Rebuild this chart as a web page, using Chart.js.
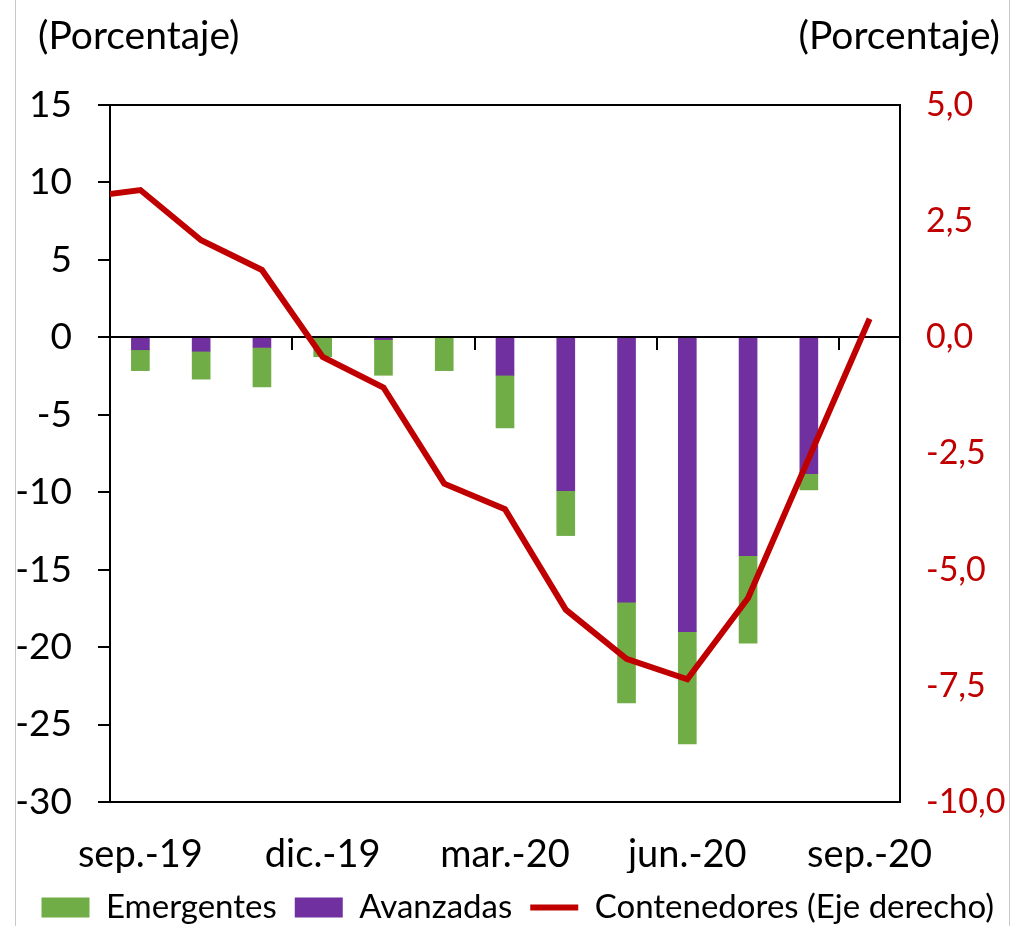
<!DOCTYPE html>
<html>
<head>
<meta charset="utf-8">
<script src="https://cdn.jsdelivr.net/npm/chart.js@4.4.1/dist/chart.umd.min.js"></script>
<style>
body { margin:0; background:#fff; overflow:hidden; }
#wrap { position:relative; width:1012px; height:926px; overflow:hidden; }
#chart { position:absolute; left:0; top:0; }
#frame { position:absolute; left:15px; top:0; width:995px; height:926px; border-left:1px solid #c8c8c8; border-right:1px solid #c8c8c8; box-sizing:border-box; pointer-events:none; }
</style>
</head>
<body>
<div id="wrap"><canvas id="chart" width="1012" height="934"></canvas><div id="frame"></div></div>
<script>
// data (left axis: %, right axis: %)
var months = ['ago.-19','sep.-19','oct.-19','nov.-19','dic.-19','ene.-20','feb.-20','mar.-20','abr.-20','may.-20','jun.-20','jul.-20','ago.-20','sep.-20'];
var tickLabels = ['sep.-19','dic.-19','mar.-20','jun.-20','sep.-20'];
var avanzadas = [null,-0.8,-0.9,-0.65,0,-0.15,0,-2.45,-9.9,-17.1,-19.0,-14.1,-8.8,null];
var emergentes = [null,-1.35,-1.8,-2.55,-1.25,-2.3,-2.15,-3.4,-2.9,-6.5,-7.25,-5.65,-1.05,null];
var contenedores = [3.0,3.17,2.09,1.45,-0.42,-1.08,-3.15,-3.7,-5.86,-6.92,-7.36,-5.61,-2.6,0.4];
var legendOrder = ['Emergentes','Avanzadas','Contenedores (Eje derecho)'];

var FONT = 'Lato';
Chart.defaults.font.family = FONT;
Chart.defaults.color = '#000';

function points(arr) {
	var out = [];
	for (var i = 0; i < arr.length; i++) {
		if (arr[i] !== null) out.push({x: i, y: arr[i]});
	}
	return out;
}

// plot box, zero axis with its tick marks, and the two unit labels
var decor = {
	id: 'decor',
	beforeDatasetDraw: function(chart, args) {
		if (args.meta.type !== 'line') return;
		var a = chart.chartArea, ctx = chart.ctx;
		var xs = chart.scales.x, y0 = Math.round(chart.scales.y.getPixelForValue(0));
		ctx.save();
		ctx.strokeStyle = '#000';
		ctx.lineWidth = 2;
		ctx.beginPath();
		ctx.moveTo(a.left - 12, y0);
		ctx.lineTo(a.right, y0);
		for (var i = 1; i < tickLabels.length; i++) {
			var px = Math.round(xs.getPixelForValue(months.indexOf(tickLabels[i]) - 0.5));
			ctx.moveTo(px, y0);
			ctx.lineTo(px, y0 + 13);
		}
		ctx.stroke();
		ctx.strokeRect(a.left, a.top, a.right - a.left, a.bottom - a.top);
		ctx.restore();
	},
	afterDraw: function(chart) {
		var ctx = chart.ctx;
		ctx.save();
		ctx.fillStyle = '#000';
		ctx.font = '39px ' + FONT;
		ctx.textBaseline = 'middle';
		ctx.textAlign = 'left';
		ctx.fillText('(Porcentaje)', 38, 36);
		ctx.textAlign = 'right';
		ctx.fillText('(Porcentaje)', 1000, 36);
		ctx.restore();
	}
};

var ctx = document.getElementById('chart').getContext('2d');
var chart = new Chart(ctx, {
	type: 'bar',
	data: {
		datasets: [
			{
				type: 'line',
				label: 'Contenedores (Eje derecho)',
				data: points(contenedores),
				yAxisID: 'y1',
				borderColor: '#C00000',
				backgroundColor: '#C00000',
				borderWidth: 6,
				pointRadius: 0,
				tension: 0,
				clip: 0,
				order: -1
			},
			{
				label: 'Avanzadas',
				data: points(avanzadas),
				backgroundColor: '#7030A0',
				stack: 'a',
				barThickness: 18
			},
			{
				label: 'Emergentes',
				data: points(emergentes),
				backgroundColor: '#70AD47',
				stack: 'a',
				barThickness: 18
			}
		]
	},
	options: {
		responsive: false,
		animation: false,
		layout: { padding: { left: 10, right: 0, top: 105, bottom: 0 } },
		plugins: {
			tooltip: { enabled: false },
			legend: {
				position: 'bottom',
				align: 'end',
				labels: {
					usePointStyle: true,
					pointStyleWidth: 48,
					boxHeight: 20,
					padding: 18,
					color: '#000',
					font: { size: 33 },
					generateLabels: function(chart) {
						var items = Chart.defaults.plugins.legend.labels.generateLabels(chart);
						items.forEach(function(it) {
							it.pointStyle = it.text === 'Contenedores (Eje derecho)' ? 'line' : 'rect';
						});
						return items;
					},
					sort: function(a, b) { return legendOrder.indexOf(a.text) - legendOrder.indexOf(b.text); }
				}
			}
		},
		scales: {
			x: {
				type: 'linear',
				offset: false,
				min: 0.5,
				max: months.length - 0.5,
				grid: { display: false, drawTicks: false, offset: false },
				border: { display: false },
				afterBuildTicks: function(scale) {
					scale.ticks = tickLabels.map(function(l) { return { value: months.indexOf(l) }; });
				},
				afterFit: function(s) { s.height = 71; },
				ticks: {
					autoSkip: false,
					maxRotation: 0,
					padding: 43,
					font: { size: 38, lineHeight: 0.5 },
					callback: function(v) { return months[v]; }
				}
			},
			y: {
				position: 'left',
				stacked: true,
				min: -30,
				max: 15,
				grid: { display: true, drawOnChartArea: false, drawTicks: true, tickLength: 12, color: '#000', lineWidth: 2 },
				border: { display: false },
				ticks: { stepSize: 5, padding: 26, font: { size: 37 }, color: '#000' },
				afterFit: function(s) { s.width = 100; }
			},
			y1: {
				position: 'right',
				min: -10,
				max: 5,
				grid: { display: false, drawTicks: false },
				border: { display: false },
				ticks: {
					stepSize: 2.5,
					padding: 26,
					font: { size: 34 },
					color: '#C00000',
					callback: function(v) { return v.toFixed(1).replace('.', ','); }
				},
				afterFit: function(s) { s.width = 112; }
			}
		}
	},
	plugins: [decor]
});
</script>
</body>
</html>
